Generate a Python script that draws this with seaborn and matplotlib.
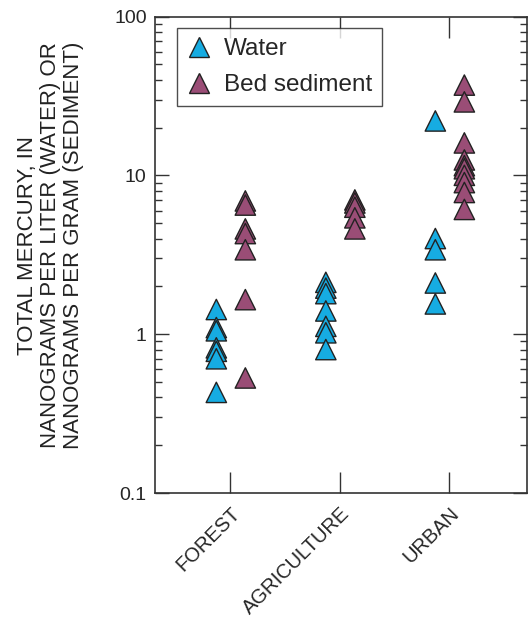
import numpy as np
import pandas as pd
import matplotlib
matplotlib.use("Agg")
import matplotlib.pyplot as plt
import seaborn as sns
from matplotlib.ticker import LogLocator, FixedLocator, NullFormatter

# ---- data ----
categories = ["FOREST", "AGRICULTURE", "URBAN"]
series = ["Water", "Bed sediment"]
water_forest = [1.43, 1.1, 1.05, 0.82, 0.78, 0.70, 0.43]
water_agriculture = [2.12, 1.95, 1.8, 1.4, 1.12, 1.02, 0.8]
water_urban = [22.0, 4.0, 3.4, 2.1, 1.55]
sediment_forest = [6.9, 6.5, 4.6, 4.3, 3.4, 1.65, 0.53]
sediment_agriculture = [7.0, 6.7, 6.3, 5.4, 4.6]
sediment_urban = [37.0, 29.0, 16.0, 12.5, 11.5, 11.0, 10.0, 9.0, 7.8, 6.1]
y_ticks = [0.1, 1, 10, 100]
y_tick_labels = ["0.1", "1", "10", "100"]
y_label = "TOTAL MERCURY, IN\nNANOGRAMS PER LITER (WATER) OR\nNANOGRAMS PER GRAM (SEDIMENT)"

# ---- build table ----
values = {
    ("Water", "FOREST"): water_forest,
    ("Water", "AGRICULTURE"): water_agriculture,
    ("Water", "URBAN"): water_urban,
    ("Bed sediment", "FOREST"): sediment_forest,
    ("Bed sediment", "AGRICULTURE"): sediment_agriculture,
    ("Bed sediment", "URBAN"): sediment_urban,
}
dodge = {"Water": -0.125, "Bed sediment": 0.14}
rows = []
for (s, c), vals in values.items():
    for v in vals:
        rows.append({"series": s, "category": c,
                     "x": categories.index(c) + dodge[s], "value": v})
df = pd.DataFrame(rows)

sns.set_theme(style="ticks")
plt.rcParams["font.family"] = ["Liberation Sans", "DejaVu Sans"]

fig = plt.figure(figsize=(5.29, 6.29), dpi=100)
ax = fig.add_axes([155 / 529, 1 - 493 / 629, (527 - 155) / 529, (493 - 16.5) / 629])

palette = {"Water": "#16ACE2", "Bed sediment": "#9A4D76"}
sns.scatterplot(data=df, x="x", y="value", hue="series", hue_order=series,
                palette=palette, marker="^", s=215, edgecolor="#222222",
                linewidth=1.0, ax=ax, zorder=3)

ax.set_yscale("log")
ax.set_ylim(0.1, 100)
ax.set_xlim(-0.685, 2.712)
ax.yaxis.set_major_locator(FixedLocator(y_ticks))
ax.set_yticklabels(y_tick_labels)
ax.yaxis.set_minor_locator(LogLocator(base=10, subs=np.arange(2, 10)))
ax.yaxis.set_minor_formatter(NullFormatter())
ax.set_xticks(range(len(categories)))
ax.set_xticklabels(categories, rotation=45, ha="right", rotation_mode="anchor")

ax.tick_params(axis="y", which="major", direction="in", length=10, width=1,
               left=True, right=True, labelsize=14, pad=6, color="#333333")
ax.tick_params(axis="y", which="minor", direction="in", length=5, width=1,
               left=True, right=True, color="#333333")
ax.tick_params(axis="x", which="major", direction="in", length=15, width=1,
               top=True, bottom=True, labelsize=14.5, pad=8, color="#333333")
ax.tick_params(axis="x", which="minor", bottom=False, top=False)
for sp in ax.spines.values():
    sp.set_visible(True)
    sp.set_linewidth(1.2)
    sp.set_color("#333333")

ax.set_xlabel("")
ax.set_ylabel(y_label, fontsize=16, linespacing=1.12, color="#222222")
ax.yaxis.set_label_coords(-0.19, 0.52)

leg = ax.legend(loc="upper left", bbox_to_anchor=(0.059, 0.976), fontsize=17.5,
                frameon=True, fancybox=False, edgecolor="#222222",
                borderpad=0.42, handletextpad=0.5, labelspacing=0.58,
                markerscale=1.0, borderaxespad=0, handlelength=1.0)
leg.get_frame().set_linewidth(1.0)
leg.set_title(None)

fig.savefig("out.png", dpi=100)
